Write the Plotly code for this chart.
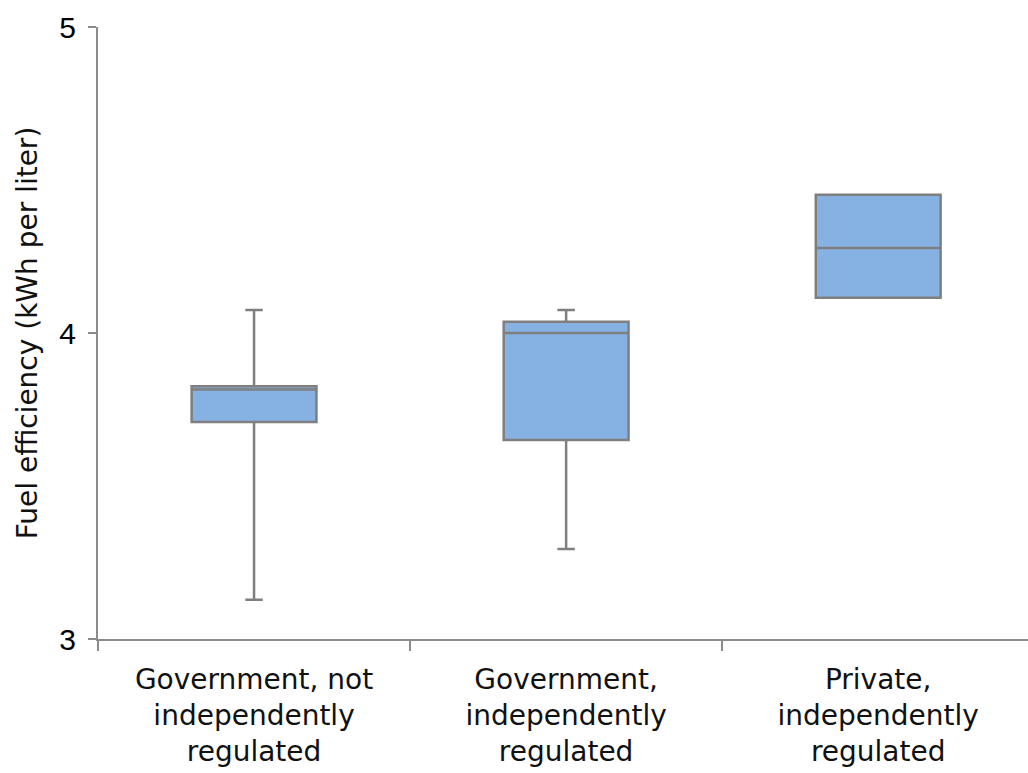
import plotly.graph_objects as go

categories = [
    "Government, not<br>independently<br>regulated",
    "Government,<br>independently<br>regulated",
    "Private,<br>independently<br>regulated",
]
lower_whisker = [3.128, 3.294, 4.115]
q1_values = [3.709, 3.650, 4.115]
median_values = [3.815, 4.000, 4.278]
q3_values = [3.826, 4.037, 4.452]
upper_whisker = [4.075, 4.075, 4.452]
y_ticks = [3, 4, 5]

fig = go.Figure()
fig.add_trace(go.Box(
    x=categories,
    lowerfence=lower_whisker,
    q1=q1_values,
    median=median_values,
    q3=q3_values,
    upperfence=upper_whisker,
    fillcolor="#86B1E3",
    line=dict(color="#7F7F7F", width=2.5),
    width=0.4,
    whiskerwidth=0.14,
    boxpoints=False,
    showlegend=False,
    hoverinfo="skip",
))

axis_color = "#8C8C8C"
text_font = "DejaVu Sans, Liberation Sans, Arial, sans-serif"
fig.update_layout(
    width=1028, height=773,
    margin=dict(l=98, r=0, t=27, b=134),
    paper_bgcolor="white", plot_bgcolor="white",
    font=dict(family=text_font, color="#111111"),
    showlegend=False,
)
fig.update_yaxes(
    range=[3, 5], tickvals=y_ticks, ticktext=[str(v) for v in y_ticks],
    showgrid=False, zeroline=False,
    showline=True, linecolor=axis_color, linewidth=2,
    ticks="outside", ticklen=8, tickwidth=2, tickcolor=axis_color,
    ticklabelstandoff=6,
    tickfont=dict(size=30, color="#000000", family="Liberation Sans, Arial, sans-serif"),
    title=dict(text="Fuel efficiency (kWh per liter)", font=dict(size=28, color="#111111"), standoff=14),
)
fig.update_xaxes(
    type="category", tickson="boundaries", range=[-0.5, 2.48],
    showgrid=False, zeroline=False,
    showline=True, linecolor=axis_color, linewidth=2,
    ticks="outside", ticklen=10, tickwidth=2, tickcolor=axis_color,
    ticklabelstandoff=14,
    tickfont=dict(size=28, color="#111111"),
)

fig.write_html("out.html")
